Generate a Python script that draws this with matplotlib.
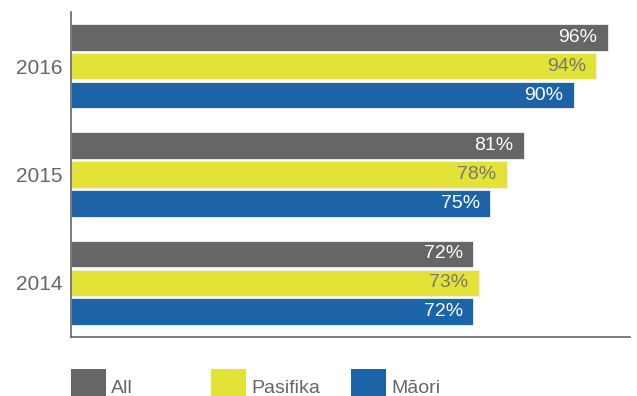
import numpy as np
import matplotlib.pyplot as plt
from matplotlib.patches import Rectangle

plt.rcParams["font.family"] = ["Liberation Sans", "DejaVu Sans"]

## data
years = ["2014", "2015", "2016"]
series = ["All", "Pasifika", "Māori"]
all_vals = [72, 81, 96]
pasifika_vals = [73, 78, 94]
maori_vals = [72, 75, 90]

colors = ["#666666", "#e3e236", "#1c63a8"]
label_colors = ["white", "#777777", "white"]

fig = plt.figure(figsize=(6.37, 3.96), dpi=100)
ax = fig.add_axes([71 / 637, 1 - 337 / 396, 559 / 637, 325 / 396])

y = np.arange(len(years))
pitch = 0.267
height = 0.245
for i, (vals, c, lc) in enumerate(zip([all_vals, pasifika_vals, maori_vals], colors, label_colors)):
    pos = y + (1 - i) * pitch
    bars = ax.barh(pos, vals, height=height, color=c, edgecolor="#f2f2f2", linewidth=0.6)
    for b, v in zip(bars, vals):
        ax.text(v - 1.9, b.get_y() + b.get_height() / 2, f"{v}%", ha="right", va="center",
                fontsize=14, color=lc)

ax.set_xlim(0, 100)
ax.set_ylim(-0.5, 2.5)
ax.set_yticks(y)
ax.set_yticklabels(years, fontsize=15, color="#666666")
ax.tick_params(axis="y", length=0, pad=6)
ax.set_xticks([])
for s in ["top", "right"]:
    ax.spines[s].set_visible(False)
for s in ["left", "bottom"]:
    ax.spines[s].set_color("#666666")
    ax.spines[s].set_linewidth(1.2)

## legend along the bottom
for i, (name, c) in enumerate(zip(series, colors)):
    x0 = (71 + 140 * i) / 637
    fig.add_artist(Rectangle((x0, 0), 35 / 637, 27 / 396, transform=fig.transFigure,
                             facecolor=c, edgecolor="none"))
    fig.text(x0 + 40 / 637, 3 / 396, name, fontsize=14, color="#666666", va="baseline")

fig.savefig("out.png", dpi=100)
